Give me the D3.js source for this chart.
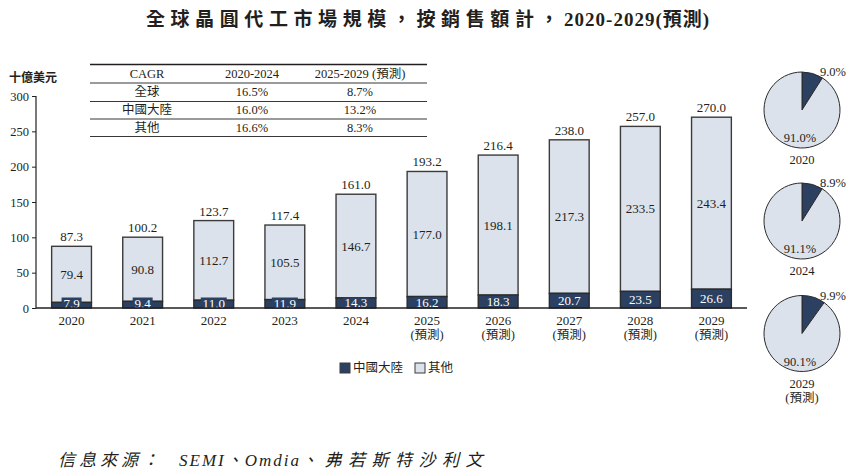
<!DOCTYPE html>
<html>
<head>
<meta charset="utf-8">
<script src="https://cdn.jsdelivr.net/npm/d3@7"></script>
<style>
  body { margin: 0; background: #fff; }
  svg text { font-family: "Liberation Serif", "Noto Sans CJK TC", serif; fill: #231f20; }
</style>
</head>
<body>
<svg id="canvas"></svg>
<script>
let years = ["2020","2021","2022","2023","2024","2025","2026","2027","2028","2029"];
let china = [7.9, 9.4, 11.0, 11.9, 14.3, 16.2, 18.3, 20.7, 23.5, 26.6];
let other = [79.4, 90.8, 112.7, 105.5, 146.7, 177.0, 198.1, 217.3, 233.5, 243.4];
let totals = [87.3, 100.2, 123.7, 117.4, 161.0, 193.2, 216.4, 238.0, 257.0, 270.0];
let forecastFrom = 2025;
let yTicks = [0, 50, 100, 150, 200, 250, 300];

let cagrHeader = ["CAGR", "2020-2024", "2025-2029 (預測)"];
let cagrRegions = ["全球", "中國大陸", "其他"];
let cagrA = ["16.5%", "16.0%", "16.6%"];
let cagrB = ["8.7%", "13.2%", "8.3%"];

let pieYears = ["2020", "2024", "2029"];
let pieChina = [9.0, 8.9, 9.9];
let pieOther = [91.0, 91.1, 90.1];

let legendNames = ["中國大陸", "其他"];

let width = 861;
let height = 475;
let darkColor = "#2c4062";
let lightColor = "#dce2eb";
let lineColor = "#231f20";

let canvas = d3.select("#canvas").attr("width", width).attr("height", height);

let xScale, yScale;

let generateScales = () => {
    xScale = d3.scaleBand()
               .domain(years)
               .range([36, 747])
               .paddingInner(0.44)
               .paddingOuter(0.22);
    yScale = d3.scaleLinear()
               .domain([0, 300])
               .range([308, 96]);
}

let drawTitle = () => {
    let t = canvas.append("text")
          .attr("x", 428)
          .attr("y", 26)
          .attr("text-anchor", "middle")
          .attr("font-size", 19)
          .attr("font-weight", "bold");
    t.append("tspan").attr("letter-spacing", 5.6).text("全球晶圓代工市場規模，按銷售額計，");
    t.append("tspan").attr("letter-spacing", 1).text("2020-2029");
    t.append("tspan").attr("letter-spacing", 1).text("(預測)");

    let s = canvas.append("text")
          .attr("x", 58)
          .attr("y", 466)
          .attr("font-size", 17)
          .attr("font-style", "italic");
    s.append("tspan").attr("letter-spacing", 4).text("信息來源：");
    s.append("tspan").attr("dx", 16).attr("letter-spacing", 2).text("SEMI");
    s.append("tspan").attr("letter-spacing", 2).text("、Omdia");
    s.append("tspan").attr("letter-spacing", 6.5).text("、弗若斯特沙利文");
}

let drawTable = () => {
    let cols = [147, 252, 360];
    let rowY = [74, 92, 110, 127.5];
    let lines = [64.5, 83, 101.5, 119, 136.5];
    canvas.selectAll(".tline")
          .data(lines)
          .enter()
          .append("line")
          .attr("class", "tline")
          .attr("x1", 90).attr("x2", 427)
          .attr("y1", d => d).attr("y2", d => d)
          .attr("stroke", lineColor)
          .attr("stroke-width", (d, i) => i == 0 ? 1.3 : 0.9);

    let rows = [cagrHeader].concat(cagrRegions.map((r, i) => [r, cagrA[i], cagrB[i]]));
    rows.forEach((row, ri) => {
        row.forEach((cell, ci) => {
            canvas.append("text")
                  .attr("x", cols[ci])
                  .attr("y", rowY[ri])
                  .attr("text-anchor", "middle")
                  .attr("dominant-baseline", "central")
                  .attr("font-size", 12.5)
                  .text(cell);
        });
    });
}

let drawBars = () => {
    let g = canvas.append("g");
    let bars = g.selectAll(".bar")
         .data(years)
         .enter()
         .append("g")
         .attr("class", "bar");

    bars.append("rect")
        .attr("x", d => xScale(d))
        .attr("width", xScale.bandwidth())
        .attr("y", (d, i) => yScale(china[i] + other[i]))
        .attr("height", (d, i) => yScale(china[i]) - yScale(china[i] + other[i]))
        .attr("fill", lightColor)
        .attr("stroke", "#3b3b3b")
        .attr("stroke-width", 1.4);

    bars.append("rect")
        .attr("x", d => xScale(d))
        .attr("width", xScale.bandwidth())
        .attr("y", (d, i) => yScale(china[i]))
        .attr("height", (d, i) => yScale(0) - yScale(china[i]))
        .attr("fill", darkColor)
        .attr("stroke", "#2b2b2b")
        .attr("stroke-width", 1.4);

    // totals
    bars.append("text")
        .attr("x", d => xScale(d) + xScale.bandwidth() / 2)
        .attr("y", (d, i) => yScale(totals[i]) - 5)
        .attr("text-anchor", "middle")
        .attr("font-size", 13)
        .text((d, i) => totals[i].toFixed(1));

    // other segment labels
    bars.append("text")
        .attr("x", d => xScale(d) + xScale.bandwidth() / 2)
        .attr("y", (d, i) => (yScale(china[i]) + yScale(china[i] + other[i])) / 2)
        .attr("text-anchor", "middle")
        .attr("dominant-baseline", "central")
        .attr("font-size", 13)
        .text((d, i) => other[i].toFixed(1));

    // china labels with dark box
    let chinaY = i => Math.min((yScale(0) + yScale(china[i])) / 2, 303);
    bars.append("rect")
        .attr("x", (d, i) => xScale(d) + xScale.bandwidth() / 2 - (china[i] >= 10 ? 13 : 10))
        .attr("width", (d, i) => china[i] >= 10 ? 26 : 20)
        .attr("y", (d, i) => chinaY(i) - 5.5)
        .attr("height", 11)
        .attr("fill", darkColor);
    bars.append("text")
        .attr("x", d => xScale(d) + xScale.bandwidth() / 2)
        .attr("y", (d, i) => chinaY(i))
        .attr("text-anchor", "middle")
        .attr("dominant-baseline", "central")
        .attr("font-size", 13)
        .style("fill", "#fff")
        .text((d, i) => china[i].toFixed(1));
}

let drawAxes = () => {
    let yAxis = d3.axisLeft(yScale).tickValues(yTicks).tickSize(4).tickPadding(3);
    let ya = canvas.append("g")
          .attr("transform", "translate(36,0)")
          .call(yAxis);
    ya.select(".domain").attr("stroke", lineColor).attr("stroke-width", 1.2).attr("d", "M0,96V308");
    ya.selectAll(".tick line").attr("stroke", lineColor);
    ya.selectAll(".tick text")
      .attr("font-size", 12.5)
      .attr("font-family", "Liberation Serif")
      .style("fill", lineColor);

    let xAxis = d3.axisBottom(xScale).tickSize(0).tickFormat("");
    let xa = canvas.append("g")
          .attr("transform", "translate(0,308)")
          .call(xAxis);
    xa.select(".domain").attr("stroke", lineColor).attr("stroke-width", 1.4).attr("d", "M36,0H747");

    let labels = canvas.append("g");
    labels.selectAll(".yr")
          .data(years)
          .enter()
          .append("text")
          .attr("class", "yr")
          .attr("x", d => xScale(d) + xScale.bandwidth() / 2)
          .attr("y", 325)
          .attr("text-anchor", "middle")
          .attr("font-size", 13)
          .text(d => d);
    labels.selectAll(".fc")
          .data(years.filter(d => +d >= forecastFrom))
          .enter()
          .append("text")
          .attr("class", "fc")
          .attr("x", d => xScale(d) + xScale.bandwidth() / 2)
          .attr("y", 339)
          .attr("text-anchor", "middle")
          .attr("font-size", 12.5)
          .text("(預測)");

    canvas.append("text")
          .attr("x", 9)
          .attr("y", 82)
          .attr("font-size", 12)
          .attr("font-weight", "bold")
          .style("font-family", "'Noto Sans CJK TC', sans-serif")
          .text("十億美元");
}

let drawLegend = () => {
    let items = [
        {name: legendNames[0], color: darkColor, x: 340},
        {name: legendNames[1], color: lightColor, x: 415}
    ];
    let lg = canvas.selectAll(".lg")
          .data(items)
          .enter()
          .append("g")
          .attr("class", "lg")
          .attr("transform", d => "translate(" + d.x + ",363)");
    lg.append("rect")
      .attr("width", 10).attr("height", 10)
      .attr("fill", d => d.color)
      .attr("stroke", "#3b3b3b")
      .attr("stroke-width", 1);
    lg.append("text")
      .attr("x", 13)
      .attr("y", 5)
      .attr("dominant-baseline", "central")
      .attr("font-size", 12.5)
      .text(d => d.name);
}

let drawPies = () => {
    let centers = [110, 221, 333.5];
    let cx = 802;
    let r = 38;
    let pie = d3.pie().sort(null).value(d => d);
    let arc = d3.arc().innerRadius(0).outerRadius(r);

    pieYears.forEach((yr, i) => {
        let g = canvas.append("g").attr("transform", "translate(" + cx + "," + centers[i] + ")");
        g.selectAll("path")
         .data(pie([pieChina[i], pieOther[i]]))
         .enter()
         .append("path")
         .attr("d", arc)
         .attr("fill", (d, j) => j == 0 ? darkColor : lightColor)
         .attr("stroke", "#2b2b2b")
         .attr("stroke-width", 1);

        g.append("text")
         .attr("x", 31).attr("y", -38)
         .attr("text-anchor", "middle")
         .attr("dominant-baseline", "central")
         .attr("font-size", 12.5)
         .text(pieChina[i].toFixed(1) + "%");
        g.append("text")
         .attr("x", -2).attr("y", 28)
         .attr("text-anchor", "middle")
         .attr("dominant-baseline", "central")
         .attr("font-size", 12.5)
         .text(pieOther[i].toFixed(1) + "%");
        g.append("text")
         .attr("x", 0).attr("y", r + 12)
         .attr("text-anchor", "middle")
         .attr("dominant-baseline", "central")
         .attr("font-size", 12.5)
         .text(yr);
        if (+yr >= forecastFrom) {
            g.append("text")
             .attr("x", 0).attr("y", r + 26)
             .attr("text-anchor", "middle")
             .attr("dominant-baseline", "central")
             .attr("font-size", 12.5)
             .text("(預測)");
        }
    });
}

generateScales();
drawTitle();
drawTable();
drawBars();
drawAxes();
drawLegend();
drawPies();
</script>
</body>
</html>
